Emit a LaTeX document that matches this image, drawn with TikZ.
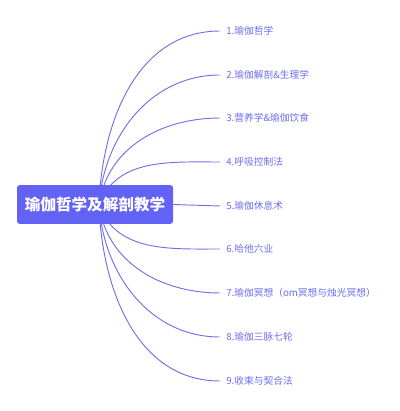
\documentclass[tikz,border=0pt]{standalone}
\usepackage{fontspec}
\setmainfont{Noto Sans CJK SC}
\usetikzlibrary{positioning}
\definecolor{mapblue}{HTML}{6262F4}
\definecolor{leafblue}{HTML}{6C6CF2}
\definecolor{linkblue}{HTML}{7070E6}

\begin{document}
\begin{tikzpicture}[x=0.75pt,y=0.75pt,
  root/.style={fill=mapblue,text=white,rounded corners=2pt,
    minimum width=117pt,minimum height=29pt,inner sep=0pt,
    font=\fontsize{11.7}{14}\selectfont\bfseries},
  leaf/.style={anchor=west,text=leafblue,inner xsep=4.5pt,inner ysep=2pt,
    font=\fontsize{7.3}{9}\selectfont},
  link/.style={draw=linkblue,line width=0.7pt}]
\useasboundingbox (0,0) rectangle (400,411);

\coordinate (O) at (99,206);

\node[leaf] (L1) at (220,380) {1.瑜伽哲学};
\node[leaf] (L2) at (220,336) {2.瑜伽解剖\&生理学};
\node[leaf] (L3) at (220,293) {3.营养学\&瑜伽饮食};
\node[leaf] (L4) at (220,249) {4.呼吸控制法};
\node[leaf] (L5) at (220,205) {5.瑜伽休息术};
\node[leaf] (L6) at (220,162) {6.哈他六业};
\node[leaf] (L7) at (220,118) {7.瑜伽冥想（om冥想与烛光冥想）};
\node[leaf] (L8) at (220,74) {8.瑜伽三脉七轮};
\node[leaf] (L9) at (220,30) {9.收束与契合法};

\foreach \i/\a in {1/88,2/86,3/82,4/70,6/-70,7/-82,8/-86,9/-88}
  \draw[link] (O) to[out=\a,in=180] (L\i.west);

\node[root] (R) at (95,206.5) {瑜伽哲学及解剖教学};

\draw[link] (R.east) -- (L5.west);

\end{tikzpicture}
\end{document}
